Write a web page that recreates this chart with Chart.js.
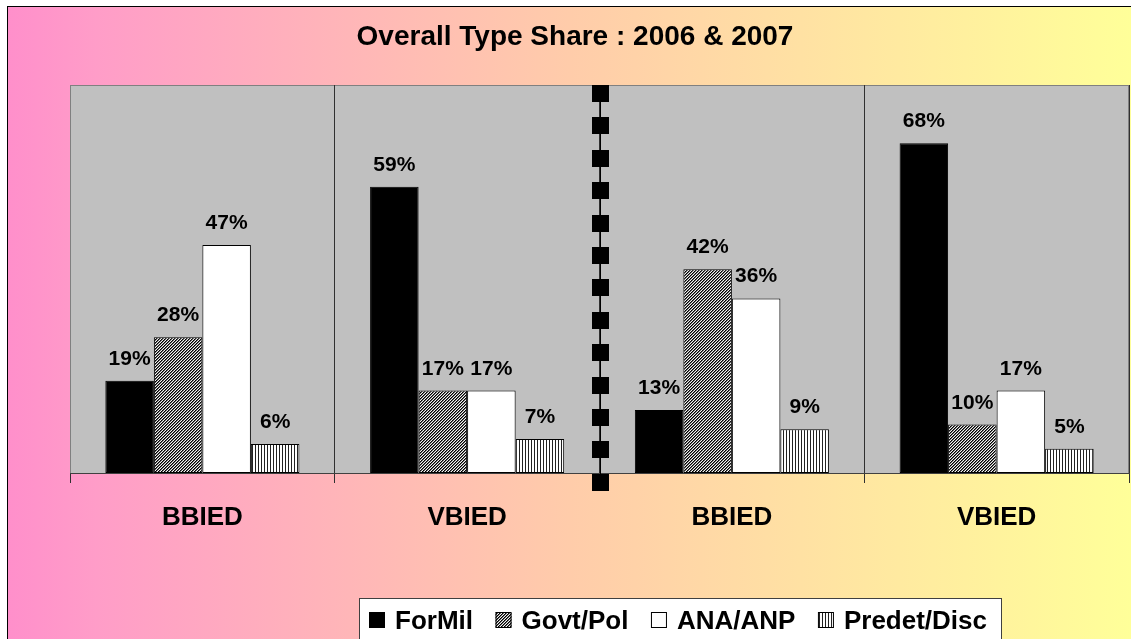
<!DOCTYPE html>
<html>
<head>
<meta charset="utf-8">
<title>Overall Type Share : 2006 & 2007</title>
<script src="https://cdn.jsdelivr.net/npm/chart.js@4.4.1/dist/chart.umd.min.js"></script>
<style>
  html, body { margin: 0; padding: 0; background: #fff; }
  #wrap { width: 1131px; height: 639px; position: relative; }
</style>
</head>
<body>
<div id="wrap"><canvas id="typeShareChart"></canvas></div>
<script>
// chart data
const categories = ['BBIED', 'VBIED', 'BBIED', 'VBIED'];
const seriesNames = ['ForMil', 'Govt/Pol', 'ANA/ANP', 'Predet/Disc'];
const forMil = [19, 59, 13, 68];
const govtPol = [28, 17, 42, 10];
const anaAnp = [47, 17, 36, 17];
const predetDisc = [6, 7, 9, 5];
const yMax = 80;

const FONT = "'Liberation Sans', Arial, sans-serif";

// fill patterns for the hatched series
function makePattern(kind) {
  const c = document.createElement('canvas');
  const g = c.getContext('2d');
  if (kind === 'diag') {
    c.width = 3; c.height = 3;
    g.fillStyle = '#f4f4f4';
    g.fillRect(0, 0, 3, 3);
    for (let y = 0; y < 3; y++) {
      g.fillStyle = '#000';
      g.fillRect((2 - y + 3) % 3, y, 1, 1);
      g.fillStyle = '#6a6a6a';
      g.fillRect((3 - y + 3) % 3, y, 1, 1);
    }
  } else {
    c.width = 3; c.height = 2;
    g.fillStyle = '#fff';
    g.fillRect(0, 0, 3, 2);
    g.fillStyle = '#222';
    g.fillRect(0, 0, 1, 2);
  }
  return g.createPattern(c, 'repeat');
}

const fills = ['#000000', makePattern('diag'), '#ffffff', makePattern('vert')];

const backdrop = {
  id: 'backdrop',
  beforeDraw(chart) {
    const { ctx, chartArea: a, width, height } = chart;
    ctx.save();
    const grad = ctx.createLinearGradient(7, 0, width, 0);
    grad.addColorStop(0, '#FF8FCB');
    grad.addColorStop(0.08, '#FF9DC8');
    grad.addColorStop(0.5, '#FFCCAA');
    grad.addColorStop(1, '#FFFF99');
    ctx.fillStyle = grad;
    ctx.fillRect(7, 6, width - 7, height - 6);
    ctx.strokeStyle = '#000';
    ctx.lineWidth = 1;
    ctx.strokeRect(7.5, 6.5, width, height);
    // plot area
    ctx.fillStyle = '#C0C0C0';
    ctx.fillRect(a.left, a.top, a.right - a.left, a.bottom - a.top);
    ctx.strokeStyle = '#808080';
    ctx.strokeRect(a.left + 0.5, a.top + 0.5, a.right - a.left - 1, a.bottom - a.top);
    // title
    ctx.fillStyle = '#000';
    ctx.font = 'bold 28px ' + FONT;
    ctx.textAlign = 'center';
    ctx.textBaseline = 'alphabetic';
    ctx.fillText('Overall Type Share : 2006 & 2007', 575, 45);
    ctx.restore();
  },
  afterDatasetsDraw(chart) {
    const { ctx, chartArea: a } = chart;
    const xs = chart.scales.x;
    ctx.save();
    // value labels
    ctx.fillStyle = '#000';
    ctx.font = 'bold 21px ' + FONT;
    ctx.textAlign = 'center';
    ctx.textBaseline = 'alphabetic';
    chart.data.datasets.forEach((ds, di) => {
      chart.getDatasetMeta(di).data.forEach((bar, i) => {
        ctx.fillText(ds.data[i] + '%', bar.x, bar.y - 16);
      });
    });
    // year divider: thin line with square dashes
    const mx = Math.round((xs.getPixelForValue(1) + xs.getPixelForValue(2)) / 2);
    const step = 32.4, sq = 17, count = 13;
    ctx.strokeStyle = '#000';
    ctx.lineWidth = 1;
    ctx.beginPath();
    ctx.moveTo(mx + 0.5, a.top);
    ctx.lineTo(mx + 0.5, a.top + step * (count - 1) + sq);
    ctx.stroke();
    ctx.fillStyle = '#000';
    for (let k = 0; k < count; k++) {
      ctx.fillRect(mx - 8, Math.round(a.top + k * step), sq, sq);
    }
    // legend
    const lx = 359, ly = 598;
    ctx.fillStyle = '#fff';
    ctx.fillRect(lx, ly, 642, 50);
    ctx.strokeStyle = '#404040';
    ctx.strokeRect(lx + 0.5, ly + 0.5, 642, 50);
    ctx.font = 'bold 26px ' + FONT;
    ctx.textAlign = 'left';
    const widths = seriesNames.map(n => ctx.measureText(n).width);
    const total = widths.reduce((s, w) => s + w, 0);
    const gap = (987 - 369 - 4 * 16 - 4 * 10 - total) / 3;
    let x = 369;
    seriesNames.forEach((name, i) => {
      ctx.fillStyle = fills[i];
      ctx.fillRect(x, 612, 16, 16);
      ctx.strokeStyle = '#000';
      ctx.strokeRect(x + 0.5, 612.5, 15, 15);
      ctx.fillStyle = '#000';
      ctx.fillText(name, x + 26, 629);
      x += 26 + widths[i] + gap;
    });
    ctx.restore();
  }
};

const edgeColor = (c) => (c.index === 0 || c.index === categories.length) ? '#808080' : '#303030';

new Chart(document.getElementById('typeShareChart'), {
  type: 'bar',
  data: {
    labels: categories,
    datasets: [
      { label: seriesNames[0], data: forMil, backgroundColor: fills[0] },
      { label: seriesNames[1], data: govtPol, backgroundColor: fills[1] },
      { label: seriesNames[2], data: anaAnp, backgroundColor: fills[2] },
      { label: seriesNames[3], data: predetDisc, backgroundColor: fills[3] }
    ].map(d => Object.assign(d, { borderColor: '#000', borderWidth: 1, borderSkipped: false }))
  },
  options: {
    responsive: true,
    maintainAspectRatio: false,
    animation: false,
    events: [],
    layout: { padding: { top: 85, left: 70, right: 2, bottom: 0 } },
    datasets: { bar: { categoryPercentage: 0.733, barPercentage: 1 } },
    plugins: { legend: { display: false }, title: { display: false }, tooltip: { enabled: false } },
    scales: {
      x: {
        afterFit(scale) { scale.height = 166; },
        grid: { offset: true, color: edgeColor, tickColor: '#303030', tickLength: 10, drawOnChartArea: true },
        border: { color: '#404040' },
        ticks: { color: '#000', padding: 19, font: { family: FONT, size: 26, weight: 'bold' } }
      },
      y: { display: false, min: 0, max: yMax }
    }
  },
  plugins: [backdrop]
});
</script>
</body>
</html>
